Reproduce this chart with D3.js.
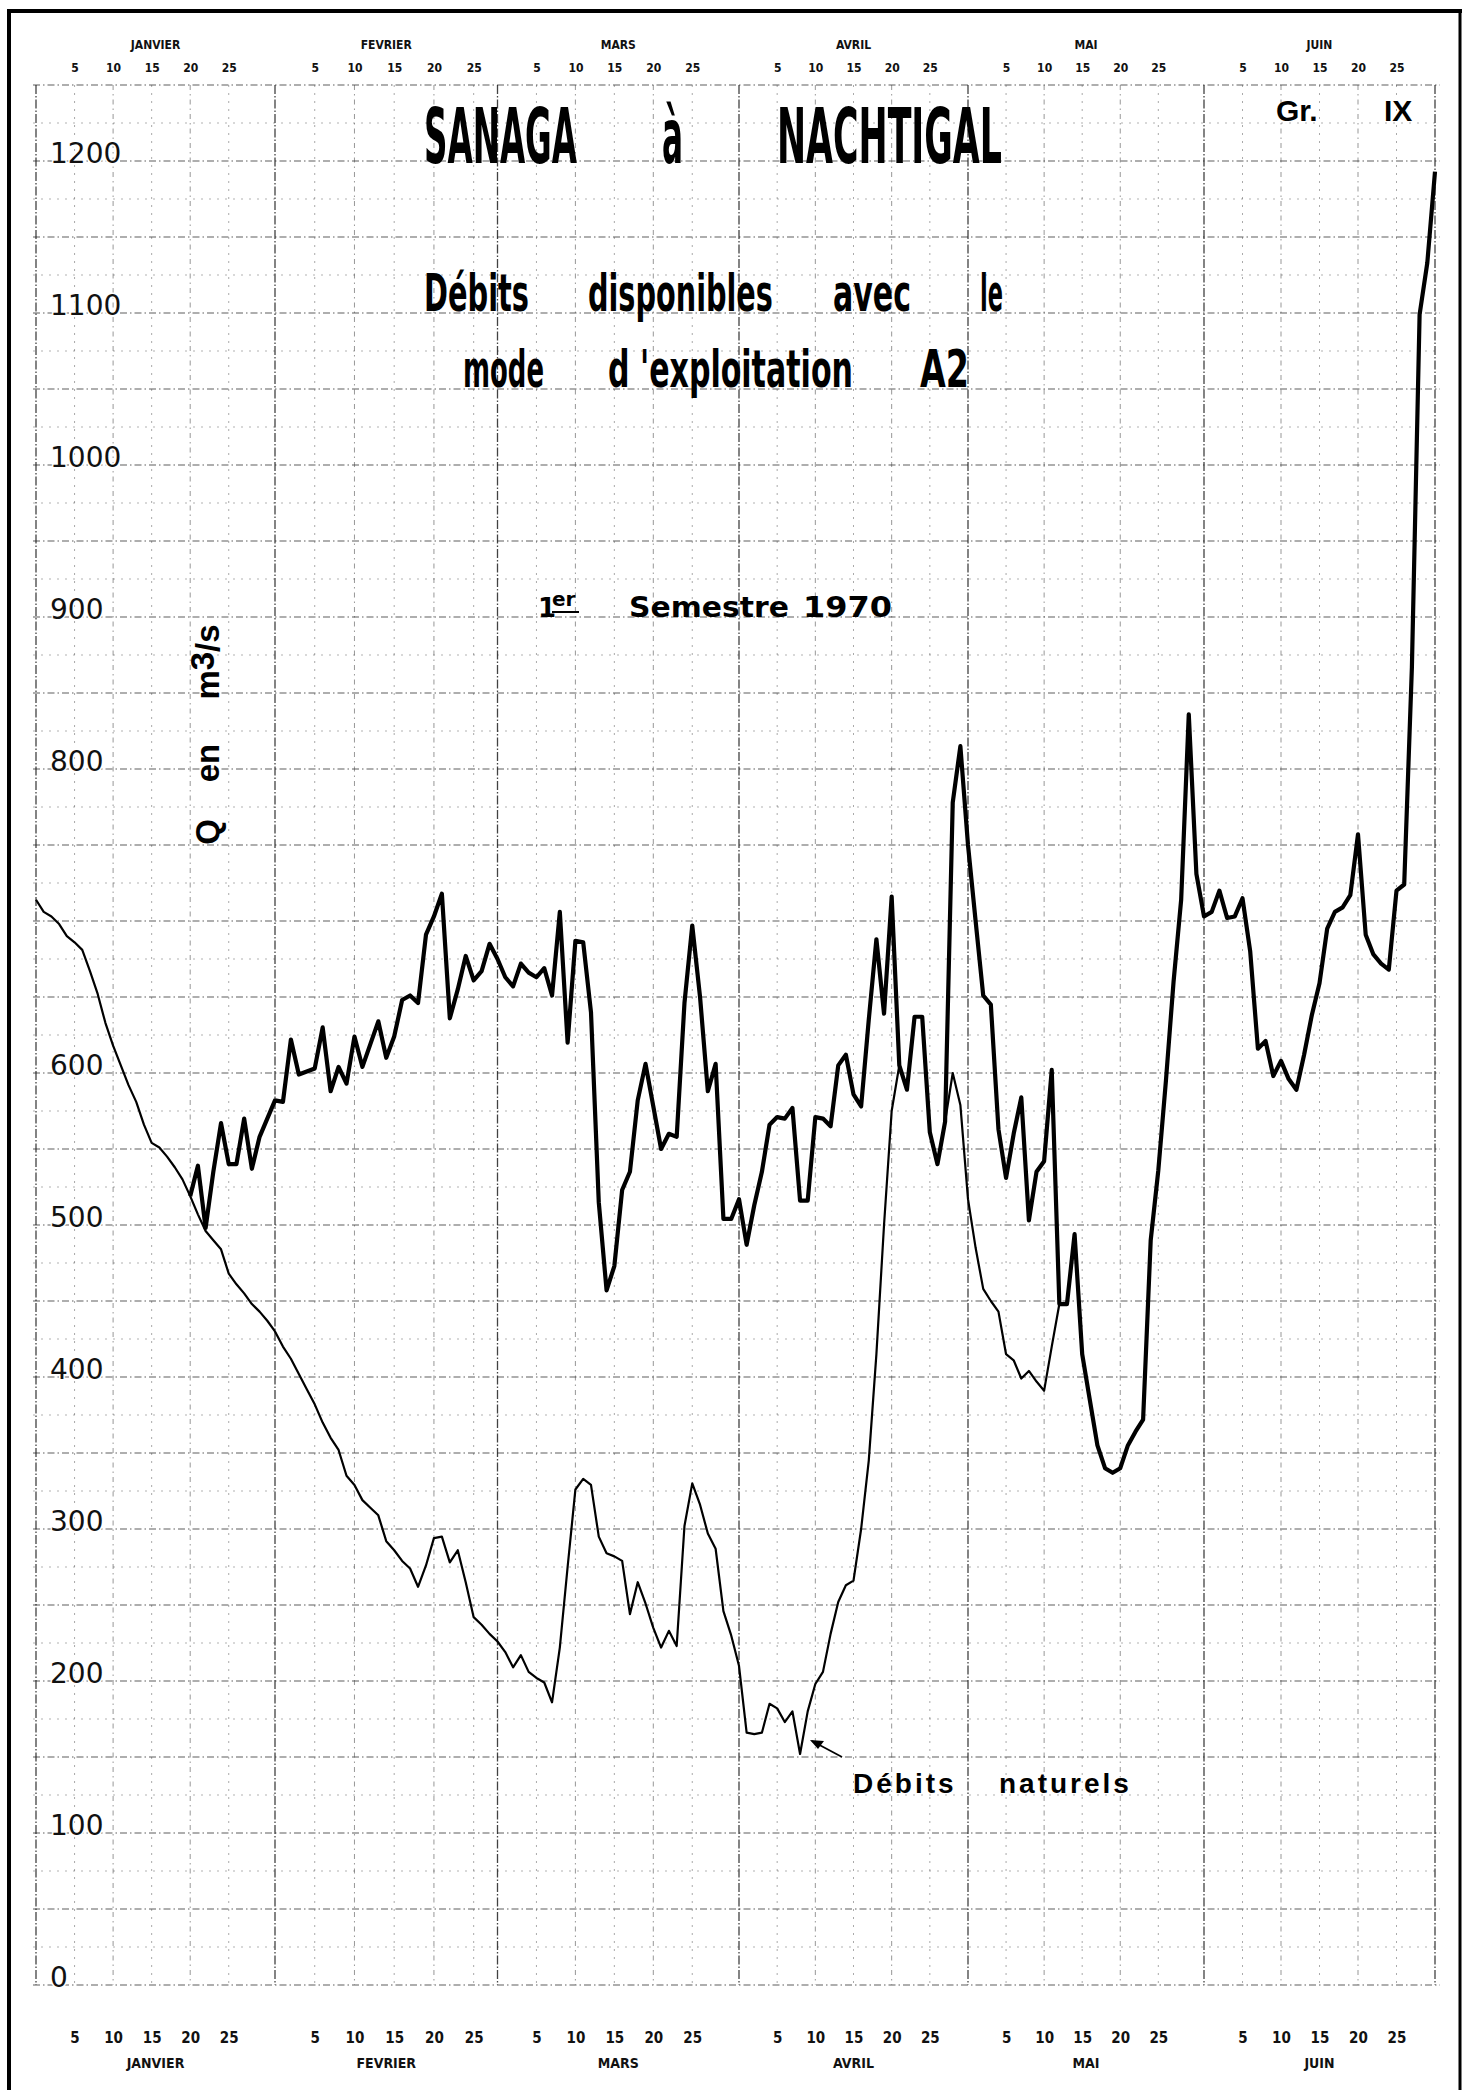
<!DOCTYPE html>
<html><head><meta charset="utf-8">
<script src="https://cdn.jsdelivr.net/npm/d3@7"></script>
<style>html,body{margin:0;padding:0;background:#fff;} svg{display:block}</style>
</head><body>
<svg id="chart" width="1465" height="2090"></svg>
<script>
// ---------- data ----------
const monthNames = ["JANVIER","FEVRIER","MARS","AVRIL","MAI","JUIN"];
const monthStarts = [0,31,59,90,120,151,181];     // day offsets of month boundaries
const dayTicks = [5,10,15,20,25];
const yTickLabels = [1200,1100,1000,900,800,600,500,400,300,200,100,0];

// Débits naturels (m3/s), one value per day from day 0
const naturalStart = 0;
const natural = [
 714,706,703,698,690,686,681,667,652,633,618,605,592,581,566,554,551,545,538,530,
 519,507,496,490,484,468,461,455,448,443,437,430,420,412,402,392,382,370,360,352,
 335,329,319,314,309,292,286,279,274,262,276,294,295,278,286,265,242,237,231,226,
 219,209,217,206,202,199,186,222,275,326,333,329,295,284,282,279,244,265,251,235,
 222,233,223,302,330,316,297,287,246,230,210,166,165,166,185,182,173,180,152,180,
 198,206,231,252,263,266,300,345,415,500,575,605,589,637,637,561,540,568,600,579,
 517,485,458,450,443,415,411,399,404,397,391,420,448
];

// Débits disponibles, mode d'exploitation A2 (m3/s), from day 20
const availableStart = 20;
const available = [
 519,539,498,535,567,540,540,570,537,558,570,582,581,622,599,601,603,630,588,604,
 593,624,604,619,634,610,624,648,651,646,691,703,718,636,655,677,661,667,685,675,
 663,657,672,666,663,669,651,706,620,687,686,640,515,457,473,523,535,582,606,578,
 550,560,558,646,697,650,588,606,504,504,517,487,513,535,566,571,570,577,516,516,
 571,570,565,605,612,586,578,635,688,639,716,605,589,637,637,561,540,568,778,815,
 750,700,651,645,563,531,560,584,503,535,542,602,448,448,494,415,385,355,340,337,
 340,355,364,372,490,536,595,660,714,836,731,703,706,720,702,703,715,680,616,621,
 598,608,596,589,612,638,659,695,706,709,717,757,691,678,672,668,720,724,867,1099,
 1133,1193
];

// ---------- drawing ----------
const svg = d3.select("#chart");
svg.append("rect").attr("width",1465).attr("height",2090).attr("fill","#fff");

const x = d3.scaleLinear().domain(monthStarts).range([36,275,497.5,739,968,1204,1435]);
const y = d3.scaleLinear().domain([0,1250]).range([1985,85]);

const narrowFont = "'Liberation Sans Narrow','DejaVu Sans Condensed','Arial Narrow','Liberation Sans',sans-serif";

// grid
const grid = svg.append("g");
d3.range(0,1251,25).forEach(v=>{
  const major = v % 50 === 0;
  grid.append("line")
    .attr("x1",33).attr("x2",1440).attr("y1",y(v)).attr("y2",y(v))
    .attr("stroke", major ? "#222" : "#555")
    .attr("stroke-width", major ? 1.1 : 0.9)
    .attr("stroke-dasharray", major ? "7,3,1.5,3" : "2,6")
    .attr("opacity", major ? 0.72 : 0.5);
});
monthStarts.forEach((s,i)=>{
  grid.append("line").attr("x1",x(s)).attr("x2",x(s)).attr("y1",y(1250)).attr("y2",y(0))
    .attr("stroke","#222").attr("stroke-width",1.3).attr("stroke-dasharray","9,2,1.5,2").attr("opacity",0.85);
  if(i<6) dayTicks.forEach(k=>{
    grid.append("line").attr("x1",x(s+k)).attr("x2",x(s+k)).attr("y1",y(1250)).attr("y2",y(0))
      .attr("stroke","#444").attr("stroke-width",1).attr("stroke-dasharray", k%10===0 ? "5,4,1.5,4" : "2,6")
      .attr("opacity", k%10===0 ? 0.55 : 0.45);
  });
});

// outer frame
svg.append("line").attr("x1",9).attr("x2",9).attr("y1",9).attr("y2",2090).attr("stroke","#000").attr("stroke-width",4);
svg.append("line").attr("x1",7).attr("x2",1462).attr("y1",11).attr("y2",11).attr("stroke","#000").attr("stroke-width",4);
svg.append("line").attr("x1",1460).attr("x2",1460).attr("y1",9).attr("y2",2090).attr("stroke","#000").attr("stroke-width",3);

// day axes
const dayVals = [];
monthStarts.slice(0,6).forEach(s=>dayTicks.forEach(k=>dayVals.push(s+k)));
const dayFmt = d => d - monthStarts[d3.bisectRight(monthStarts,d)-1];

const topAxis = svg.append("g").attr("transform","translate(0,72)")
  .call(d3.axisTop(x).tickValues(dayVals).tickFormat(dayFmt).tickSize(0).tickPadding(0));
topAxis.select(".domain").remove();
topAxis.selectAll("text").attr("dy","0").attr("font-family",narrowFont).attr("font-size",12).attr("font-weight","bold").attr("fill","#111");

const botAxis = svg.append("g").attr("transform","translate(0,2043)")
  .call(d3.axisBottom(x).tickValues(dayVals).tickFormat(dayFmt).tickSize(0).tickPadding(0));
botAxis.select(".domain").remove();
botAxis.selectAll("text").attr("dy","0").attr("font-family",narrowFont).attr("font-size",15).attr("font-weight","bold").attr("fill","#111");

monthNames.forEach((m,i)=>{
  const cx = x((monthStarts[i]+monthStarts[i+1])/2);
  svg.append("text").attr("x",cx).attr("y",49).attr("text-anchor","middle")
    .attr("font-family",narrowFont).attr("font-size",12).attr("font-weight","bold").attr("fill","#111").text(m);
  svg.append("text").attr("x",cx).attr("y",2068).attr("text-anchor","middle")
    .attr("font-family",narrowFont).attr("font-size",14).attr("font-weight","bold").attr("fill","#111").text(m);
});

// y axis labels (inside, left aligned, sitting on the grid line)
const yAxis = svg.append("g").attr("transform","translate(50,0)")
  .call(d3.axisRight(y).tickValues(yTickLabels).tickFormat(d3.format("d")).tickSize(0).tickPadding(0));
yAxis.select(".domain").remove();
yAxis.selectAll("text").attr("dy","0").attr("y",0).attr("transform","translate(0,1)")
  .attr("font-family","'DejaVu Sans',sans-serif").attr("font-size",28).attr("fill","#111").attr("text-anchor","start")
  .style("paint-order","stroke").attr("stroke","#fff").attr("stroke-width",3);

// lines
const line = d3.line().x(d=>x(d.t)).y(d=>y(d.v)).curve(d3.curveLinear);
const natPts = natural.map((v,i)=>({t:naturalStart+i, v}));
const avPts = available.map((v,i)=>({t:availableStart+i, v}));
svg.append("path").datum(natPts).attr("d",line).attr("fill","none").attr("stroke","#000").attr("stroke-width",2.2).attr("stroke-linejoin","round");
svg.append("path").datum(avPts).attr("d",line).attr("fill","none").attr("stroke","#000").attr("stroke-width",4.2).attr("stroke-linejoin","round");

// text fitted horizontally to a measured width
function fit(txt, x0, x1, base, family, size, weight){
  const t = svg.append("text").attr("x",0).attr("y",0)
    .attr("font-family",family).attr("font-weight",weight).attr("font-size",size).attr("fill","#000").text(txt);
  const w = t.node().getComputedTextLength();
  t.attr("transform",`translate(${x0},${base}) scale(${(x1-x0)/w},1)`);
  return t;
}
const condensed = "'Liberation Sans Narrow','DejaVu Sans Condensed','Liberation Sans',sans-serif";
fit("SANAGA",424,577,163,condensed,77,"bold");
fit("à",662,683,163,condensed,77,"bold");
fit("NACHTIGAL",777,1002,163,condensed,77,"bold");
fit("Débits",424,529,311,condensed,52,"bold");
fit("disponibles",588,773,311,condensed,52,"bold");
fit("avec",833,911,311,condensed,52,"bold");
fit("le",980,1003,311,condensed,52,"bold");
fit("mode",463,544,387,condensed,52,"bold");
fit("d 'exploitation",608,853,387,condensed,52,"bold");
fit("A2",920,969,387,condensed,52,"bold");

svg.append("text").attr("x",1276).attr("y",121).attr("font-family","'Liberation Sans',sans-serif").attr("font-weight","bold").attr("font-size",30).attr("fill","#000").text("Gr.");
svg.append("text").attr("x",1384).attr("y",121).attr("font-family","'Liberation Sans',sans-serif").attr("font-weight","bold").attr("font-size",30).attr("fill","#000").text("IX");

// 1er Semestre 1970
const semFont = "'DejaVu Sans',sans-serif";
svg.append("text").attr("x",538).attr("y",617).attr("font-family",semFont).attr("font-weight","bold").attr("font-size",26).attr("fill","#000").text("1");
svg.append("text").attr("x",552).attr("y",606).attr("font-family",semFont).attr("font-weight","bold").attr("font-size",20).attr("fill","#000").text("er");
svg.append("line").attr("x1",552).attr("x2",579).attr("y1",612).attr("y2",612).attr("stroke","#000").attr("stroke-width",2);
fit("Semestre",629,789,617,semFont,29,"bold");
fit("1970",803,892,617,semFont,29,"bold");

// axis title Q en m3/s
const qFont = "'Liberation Sans',sans-serif";
function vText(txt, cy){
  svg.append("text").attr("transform",`translate(219,${cy}) rotate(-90)`).attr("text-anchor","middle")
    .attr("font-family",qFont).attr("font-weight","bold").attr("font-size",33).attr("fill","#000").text(txt);
}
vText("Q",832); vText("en",763);
svg.append("text").attr("transform","translate(219,662) rotate(-90)").attr("text-anchor","middle")
  .attr("font-family",qFont).attr("font-weight","bold").attr("font-size",33).attr("fill","#000")
  .call(t=>{ t.append("tspan").text("m"); t.append("tspan").attr("dy",-5).text("3"); t.append("tspan").attr("dy",5).text("/s"); });

// annotation Débits naturels
svg.append("line").attr("x1",842).attr("y1",1757).attr("x2",812).attr("y2",1741).attr("stroke","#000").attr("stroke-width",1.8);
svg.append("path").attr("d","M810,1740 L824,1741 L818,1749 Z").attr("fill","#000");
svg.append("text").attr("x",853).attr("y",1793).attr("font-family","'Liberation Sans',sans-serif").attr("font-weight","bold")
  .attr("font-size",28).attr("letter-spacing",3).attr("fill","#000").text("Débits");
svg.append("text").attr("x",999).attr("y",1793).attr("font-family","'Liberation Sans',sans-serif").attr("font-weight","bold")
  .attr("font-size",28).attr("letter-spacing",3).attr("fill","#000").text("naturels");
</script>
</body></html>
